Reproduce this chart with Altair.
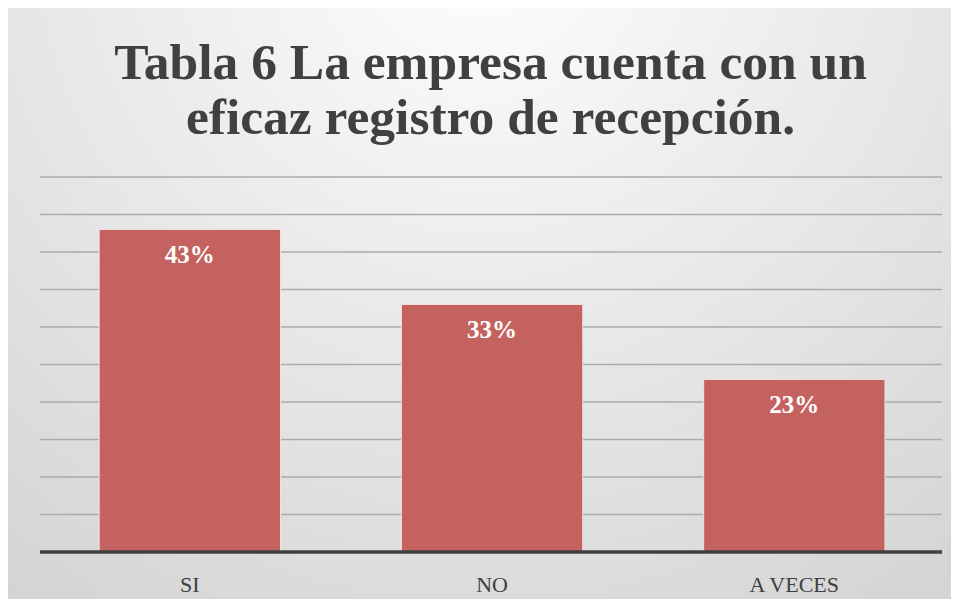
import altair as alt
import pandas as pd

categories = ["SI", "NO", "A VECES"]
values = [43, 33, 23]
labels = ["43%", "33%", "23%"]
grid_values = [5, 10, 15, 20, 25, 30, 35, 40, 45, 50]

title_lines = ["Tabla 6 La empresa cuenta con un", "eficaz registro de recepción."]

df = pd.DataFrame({"cat": categories, "val": values, "lab": labels})
grid_df = pd.DataFrame({"g": grid_values})
one_df = pd.DataFrame({"k": [0]})

W, H = 943, 591
Y_MIN, Y_MAX = -6.2667, 72.5333

xscale = alt.Scale(domain=categories, paddingInner=0.4, paddingOuter=0.26, align=0.58)
yscale = alt.Scale(domain=[Y_MIN, Y_MAX], nice=False, zero=False)

serif = "Liberation Serif"

bg_gradient = alt.RadialGradient(
    gradient="radial",
    x1=0.5, y1=0.1, r1=0,
    x2=0.5, y2=0.1, r2=1,
    stops=[
        alt.GradientStop(offset=0, color="#ffffff"),
        alt.GradientStop(offset=0.35, color="#ededed"),
        alt.GradientStop(offset=0.7, color="#dcdcdc"),
        alt.GradientStop(offset=1, color="#cdcdcd"),
    ],
)

bg = alt.Chart(one_df).mark_rect(color=bg_gradient).encode(
    x=alt.value(0), x2=alt.value(W), y=alt.value(0), y2=alt.value(H),
)

grid = alt.Chart(grid_df).mark_rule(color="#ababab", strokeWidth=1.6).encode(
    y=alt.Y("g:Q", scale=yscale, axis=None),
    x=alt.value(32), x2=alt.value(934),
)

bars = alt.Chart(df).mark_bar(color="#c46260", stroke="#f3dede", strokeWidth=1).encode(
    x=alt.X("cat:N", scale=xscale, axis=None, sort=categories),
    y=alt.Y("val:Q", scale=yscale, axis=None),
    y2=alt.datum(0),
)

bar_text = alt.Chart(df).mark_text(
    color="white", font=serif, fontWeight="bold", fontSize=25, baseline="middle", dy=26
).encode(
    x=alt.X("cat:N", scale=xscale, axis=None, sort=categories),
    y=alt.Y("val:Q", scale=yscale, axis=None),
    text="lab:N",
)

baseline = alt.Chart(one_df).mark_rule(color="#404040", strokeWidth=3.5).encode(
    y=alt.datum(0, scale=yscale), x=alt.value(32), x2=alt.value(934),
)

cat_text = alt.Chart(df).mark_text(
    color="#404040", font=serif, fontSize=22, baseline="middle"
).encode(
    x=alt.X("cat:N", scale=xscale, axis=None, sort=categories),
    y=alt.datum(-4.4),
    text="cat:N",
)

chart = alt.layer(bg, grid, bars, bar_text, baseline, cat_text).resolve_scale(
    y="shared"
).properties(
    width=W,
    height=H,
    padding=0,
    autosize=alt.AutoSizeParams(type="none"),
    title=alt.TitleParams(
        text=title_lines,
        font=serif,
        fontWeight="bold",
        fontSize=51.5,
        lineHeight=55,
        color="#404040",
        anchor="middle",
        offset=-136,
        dx=11,
    ),
).configure_view(
    strokeWidth=0
).configure(background="white")

chart.save("out.html", embed_options={"renderer": "svg", "actions": False})
